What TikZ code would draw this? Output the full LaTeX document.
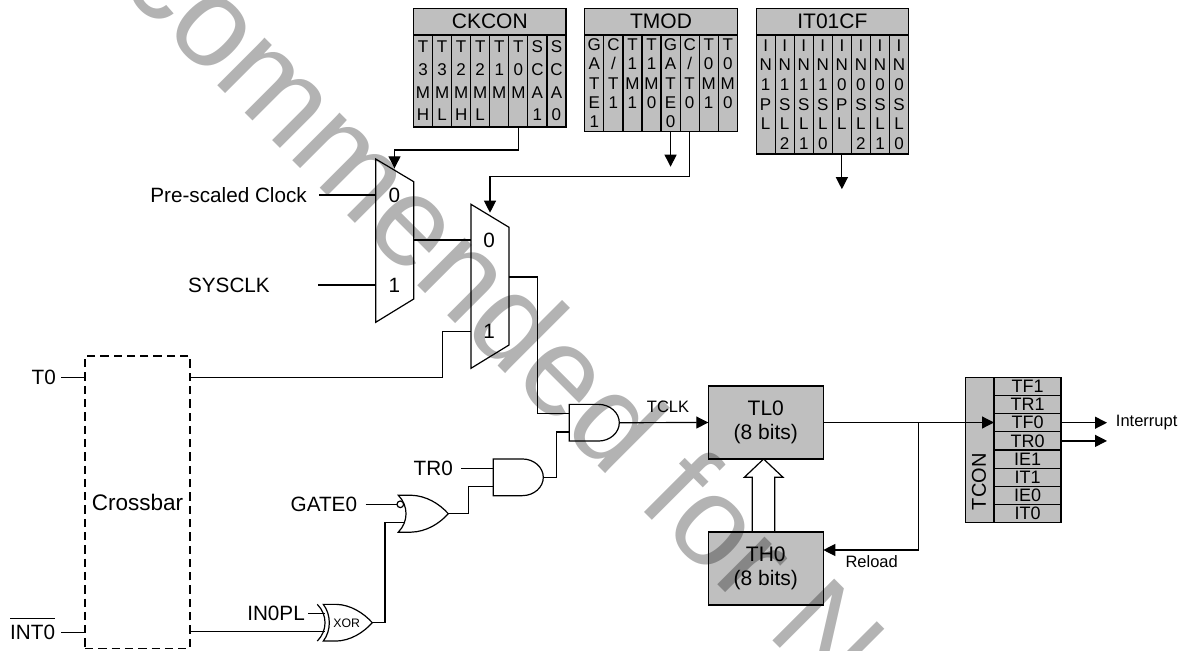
\documentclass[tikz,border=0pt]{standalone}
\usepackage{fontspec}
\setmainfont{Liberation Sans}
\usetikzlibrary{positioning,arrows.meta}
\definecolor{TimerStamp}{RGB}{179,179,179}
\tikzset{
  wire/.style={line width=1.2pt},
  arrowwire/.style={wire,-{Triangle[length=12pt,width=12pt]}},
  regcell/.style={draw,line width=1.2pt,fill=black,fill opacity=0.25,draw opacity=1,text opacity=1,inner sep=0pt,outer sep=0pt},
  regtitle/.style={regcell,minimum width=152.5pt,minimum height=26.5pt,font=\fontsize{21}{24}\selectfont},
  regbit/.style={regcell,minimum width=19.06pt,align=center},
  ckbit/.style={regbit,minimum height=92pt,font=\fontsize{17}{22.7}\selectfont},
  tmbit/.style={regbit,minimum height=96.5pt,font=\fontsize{17}{19.3}\selectfont},
  itbit/.style={regbit,minimum height=119pt,font=\fontsize{17}{19.6}\selectfont},
  tconrow/.style={regcell,minimum width=67pt,minimum height=18.17pt,font=\fontsize{18}{20}\selectfont},
  countbox/.style={regcell,minimum width=115pt,minimum height=73pt,align=center,font=\fontsize{21}{24.5}\selectfont},
  siglabel/.style={inner sep=0pt,font=\fontsize{20.7}{24}\selectfont},
  smalllabel/.style={inner sep=0pt,font=\fontsize{16.5}{20}\selectfont},
  andgate/.pic={
    \draw[wire] (-50,-18.35) -- (-21,-18.35) .. controls (-9.4,-18.35) and (0,-10.1) .. (0,0)
      .. controls (0,10.1) and (-9.4,18.35) .. (-21,18.35) -- (-50,18.35) -- cycle;
    \coordinate (-in1) at (-50,-9.2);
    \coordinate (-in2) at (-50,9.2);
    \coordinate (-out) at (0,0);
  },
  orgate/.pic={
    \draw[wire] (-50,-18.45) -- (-37,-18.45) .. controls (-22,-18) and (-9,-10) .. (0,0)
      .. controls (-9,10) and (-22,18) .. (-37,18.45) -- (-50,18.45)
      .. controls (-39.7,8) and (-39.7,-8) .. cycle;
    \draw[wire,fill=white] (-48,-9.4) circle (3.3);
    \coordinate (-in1) at (-51.3,-9.4);
    \coordinate (-in2) at (-44,9);
    \coordinate (-out) at (0,0);
  },
  xorgate/.pic={
    \draw[wire] (-49,-18.35) -- (-36,-18.35) .. controls (-22,-18) and (-9,-10) .. (0,0)
      .. controls (-9,10) and (-22,18) .. (-36,18.35) -- (-49,18.35)
      .. controls (-41,8) and (-41,-8) .. cycle;
    \draw[wire] (-55,-18.35) .. controls (-44.7,-8) and (-44.7,8) .. (-55,18.35);
    \coordinate (-in1) at (-47.3,-9);
    \coordinate (-in2) at (-47.3,9);
    \coordinate (-out) at (0,0);
  },
}
\begin{document}
\begin{tikzpicture}[x=1pt,y=-1pt]
  \useasboundingbox (0,0) rectangle (1182,650);
  % stamp behind everything
  \begin{scope}
    \clip (0,0) rectangle (1182,650);
    \node[anchor=base west,rotate=-45,inner sep=0pt,text=TimerStamp,font=\fontsize{127}{127}\selectfont] (stamp) at (117,-15) {commended for N};
  \end{scope}
  % registers
  \node[regtitle] (ckcon) at (489.75,21.75) {CKCON};
  \node[regtitle,right=18.8pt of ckcon] (tmod) {TMOD};
  \node[regtitle,right=18.8pt of tmod] (itcf) {IT01CF};
  \node[ckbit,anchor=north west] (ck1) at (ckcon.south west) {T\\3\\M\\H};
  \node[ckbit,right=0pt of ck1] (ck2) {T\\3\\M\\L};
  \node[ckbit,right=0pt of ck2] (ck3) {T\\2\\M\\H};
  \node[ckbit,right=0pt of ck3] (ck4) {T\\2\\M\\L};
  \node[ckbit,right=0pt of ck4] (ck5) {T\\1\\M\\~};
  \node[ckbit,right=0pt of ck5] (ck6) {T\\0\\M\\~};
  \node[ckbit,right=0pt of ck6] (ck7) {S\\C\\A\\1};
  \node[ckbit,right=0pt of ck7] (ck8) {S\\C\\A\\0};
  \node[tmbit,anchor=north west] (tm1) at (tmod.south west) {G\\A\\T\\E\\1};
  \node[tmbit,right=0pt of tm1] (tm2) {C\\/\\T\\1\\~};
  \node[tmbit,right=0pt of tm2] (tm3) {T\\1\\M\\1\\~};
  \node[tmbit,right=0pt of tm3] (tm4) {T\\1\\M\\0\\~};
  \node[tmbit,right=0pt of tm4] (tm5) {G\\A\\T\\E\\0};
  \node[tmbit,right=0pt of tm5] (tm6) {C\\/\\T\\0\\~};
  \node[tmbit,right=0pt of tm6] (tm7) {T\\0\\M\\1\\~};
  \node[tmbit,right=0pt of tm7] (tm8) {T\\0\\M\\0\\~};
  \node[itbit,anchor=north west] (it1) at (itcf.south west) {I\\N\\1\\P\\L\\~};
  \node[itbit,right=0pt of it1] (it2) {I\\N\\1\\S\\L\\2};
  \node[itbit,right=0pt of it2] (it3) {I\\N\\1\\S\\L\\1};
  \node[itbit,right=0pt of it3] (it4) {I\\N\\1\\S\\L\\0};
  \node[itbit,right=0pt of it4] (it5) {I\\N\\0\\P\\L\\~};
  \node[itbit,right=0pt of it5] (it6) {I\\N\\0\\S\\L\\2};
  \node[itbit,right=0pt of it6] (it7) {I\\N\\0\\S\\L\\1};
  \node[itbit,right=0pt of it7] (it8) {I\\N\\0\\S\\L\\0};
  % muxes
  \draw[wire] (375.7,159) -- (413.7,181.7) -- (413.7,299) -- (375.7,322.3) -- cycle;
  \draw[wire] (471,204.3) -- (509,227.3) -- (509,345) -- (471,368.3) -- cycle;
  \coordinate (muxasel) at (394.5,168.3);
  \coordinate (muxa0) at (375.7,195);
  \coordinate (muxa1) at (375.7,285);
  \coordinate (muxaout) at (413.7,240);
  \coordinate (muxbsel) at (490,212.7);
  \coordinate (muxb0) at (471,240);
  \coordinate (muxb1) at (471,331.7);
  \coordinate (muxbout) at (509,277);
  \node[siglabel] (muxa0txt) at (394.3,195) {0};
  \node[siglabel] (muxa1txt) at (394.3,285) {1};
  \node[siglabel] (muxb0txt) at (489,240.7) {0};
  \node[siglabel] (muxb1txt) at (489,331.7) {1};
  % inputs
  \coordinate (preclkstart) at (319,195);
  \coordinate (sysclkstart) at (318,285);
  \coordinate (t0start) at (61.3,377.3);
  \coordinate (int0start) at (61.3,632.3);
  \node[siglabel,left=12pt of preclkstart] (preclk) {Pre-scaled Clock};
  \node[siglabel,left=48pt of sysclkstart] (sysclk) {SYSCLK};
  \node[siglabel,left=5.3pt of t0start] (t0) {T0};
  \node[siglabel,left=6pt of int0start] (int0) {INT0};
  \draw[line width=1pt] ([yshift=6.5pt]int0.north west) -- ([yshift=6.5pt]int0.north east);
  \node[draw,line width=1.6pt,dash pattern=on 8.3pt off 5pt,inner sep=0pt,minimum width=105pt,minimum height=292.3pt,font=\fontsize{22.5}{26}\selectfont] (crossbar) at (137.5,502.2) {Crossbar};
  % gates
  \pic (anda) at (619.3,422.7) {andgate};
  \pic (andb) at (543.3,477.3) {andgate};
  \pic (orb) at (448.3,513.7) {orgate};
  \pic (xorb) at (372.3,622.7) {xorgate};
  \node[inner sep=0pt,font=\fontsize{12.3}{14}\selectfont] (xortxt) at (346.7,623.3) {XOR};
  \coordinate[left=32.3pt of andb-in1] (tr0start);
  \coordinate[left=31.3pt of orb-in1] (gate0start);
  \coordinate[left=16.7pt of xorb-in1] (inplstart);
  \node[siglabel,left=8pt of tr0start] (tr0) {TR0};
  \node[siglabel,left=8.5pt of gate0start] (gate0) {GATE0};
  \node[siglabel,left=3.3pt of inplstart] (inpl) {IN0PL};
  % counters
  \node[countbox] (tl0) at (765.8,422.5) {TL0\\(8 bits)};
  \node[countbox,below=73pt of tl0] (th0) {TH0\\(8 bits)};
  \node[smalllabel] (tclk) at (668,407) {TCLK};
  \node[smalllabel,anchor=west] (reload) at (845.3,562) {Reload};
  % TCON
  \node[regcell,minimum width=28.3pt,minimum height=145.4pt] (tconside) at (979.85,450) {};
  \node[font=\fontsize{20}{24}\selectfont,inner sep=0pt,rotate=90] (tcon) at (979,481.7) {TCON};
  \node[tconrow,anchor=north west] (tf1) at (tconside.north east) {TF1};
  \node[tconrow,below=0pt of tf1] (tr1) {TR1};
  \node[tconrow,below=0pt of tr1] (tf0) {TF0};
  \node[tconrow,below=0pt of tf0] (tr0row) {TR0};
  \node[tconrow,below=0pt of tr0row] (ie1) {IE1};
  \node[tconrow,below=0pt of ie1] (it1row) {IT1};
  \node[tconrow,below=0pt of it1row] (ie0) {IE0};
  \node[tconrow,below=0pt of ie0] (it0row) {IT0};
  \coordinate[right=46pt of tf0] (tf0end);
  \coordinate[right=46pt of tr0row] (tr0end);
  \node[smalllabel,right=8.7pt of tf0end] (interrupt) {Interrupt};
  % connectors
  \coordinate[below=35.2pt of tm5] (tm5end);
  \coordinate[below=35.2pt of it5] (it5end);
  \draw[arrowwire] (ck6.south) -- ++(0,23) -| (muxasel);
  \draw[arrowwire] (tm5.south) -- (tm5end);
  \draw[arrowwire] (tm6.south) -- ++(0,45.2) -| (muxbsel);
  \draw[arrowwire] (it5.south) -- (it5end);
  \draw[wire] (preclkstart) -- (muxa0);
  \draw[wire] (sysclkstart) -- (muxa1);
  \draw[wire] (muxaout) -- (muxb0);
  \draw[wire] (t0start) -- (t0start -| crossbar.west);
  \draw[wire] (int0start) -- (int0start -| crossbar.west);
  \draw[wire] (t0start -| crossbar.east) -| (442.3,331.7) -- (muxb1);
  \draw[wire] (muxbout) -- ++(28.3,0) |- (anda-in1);
  \draw[wire] (andb-out) -- ++(13.4,0) |- (anda-in2);
  \draw[wire] (orb-out) -- ++(20.4,0) |- (andb-in2);
  \draw[wire] (xorb-out) -- ++(12.7,0) |- (orb-in2);
  \draw[wire] (tr0start) -- (andb-in1);
  \draw[wire] (gate0start) -- (orb-in1);
  \draw[wire] (inplstart) -- (xorb-in1);
  \draw[wire] (xorb-in2 -| crossbar.east) -- (xorb-in2);
  \draw[arrowwire] (anda-out) -- (tl0.west);
  \draw[arrowwire] (tl0.east) -- (tl0.east -| tf0.west);
  \coordinate (reloadtap) at (918.3,422.5);
  \draw[arrowwire] (reloadtap) |- ([yshift=18.5pt]th0.east);
  \draw[arrowwire] (tf0.east) -- (tf0end);
  \draw[arrowwire] (tr0row.east) -- (tr0end);
  \draw[wire] (752.3,532) -- (752.3,477.3) -- (744.3,477.3) -- ([xshift=-2.2pt]tl0.south) -- (783,477.3) -- (774.7,477.3) -- (774.7,532);
\end{tikzpicture}
\end{document}
